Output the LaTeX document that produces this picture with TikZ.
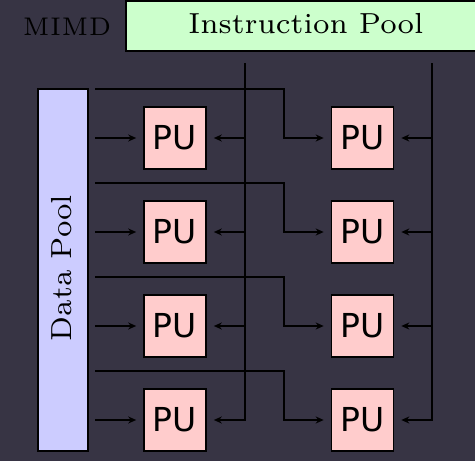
\documentclass[tikz,border=0pt]{standalone}
\usepackage{fontspec}
\newfontfamily\pufont{DejaVu Sans}
\newfontfamily\lmseven{lmroman7-regular.otf}
\newfontfamily\lmsevenspaced[LetterSpace=4]{lmroman7-regular.otf}
\usetikzlibrary{arrows.meta}
\definecolor{bgc}{RGB}{55,52,68}
\definecolor{pufill}{RGB}{255,204,204}
\definecolor{datafill}{RGB}{204,204,255}
\definecolor{instfill}{RGB}{204,255,204}
\tikzset{
  pubox/.style={draw=black, fill=pufill, line width=1.6pt, minimum width=62pt, minimum height=62pt, inner sep=0pt, font=\pufont\fontsize{33}{33}\selectfont},
  poolbox/.style={draw=black, line width=1.6pt, inner sep=0pt},
  label/.style={font=\lmseven\fontsize{29}{29}\selectfont, inner sep=0pt},
  conn/.style={draw=black, line width=1.6pt},
  arr/.style={conn, -{Stealth[length=8pt,width=7pt]}, shorten >=7pt}
}
\begin{document}
\begin{tikzpicture}[x=1pt,y=-1pt]
\fill[bgc] (0,0) rectangle (475,461);
\useasboundingbox (0,0) rectangle (475,461);
\clip (0,0) rectangle (475,461);

\node[label, font=\lmsevenspaced\fontsize{25.5}{25.5}\selectfont] (mimd) at (67,27) {MIMD};
\node[poolbox, fill=instfill, minimum width=380pt, minimum height=50pt] (inst) at (316,26) {};
\node[label] (instlabel) at (306,24) {Instruction Pool};
\node[poolbox, fill=datafill, minimum width=50pt, minimum height=362pt] (data) at (63,270) {};
\node[label, rotate=90] (datalabel) at (62,268) {Data Pool};

\foreach \r/\y in {1/138,2/232,3/326,4/420}{
  \node[pubox] (pu\r1) at (175,\y) {PU};
  \node[pubox] (pu\r2) at (362.5,\y) {PU};
}

% instruction lines
\coordinate (ia) at (245,63);
\coordinate (ib) at (432,63);
\draw[arr] (ia) |- (pu41.east);
\draw[arr] (ib) |- (pu42.east);
\foreach \r in {1,2,3}{
  \draw[arr] (pu\r1.east -| ia) -- (pu\r1.east);
  \draw[arr] (pu\r2.east -| ib) -- (pu\r2.east);
}

% data lines
\foreach \r/\y in {1/138,2/232,3/326,4/420}{
  \coordinate (dl\r) at (95,\y);
  \coordinate (ds\r) at (95,\y-49);
  \draw[arr] (dl\r) -- (pu\r1.west);
  \draw[arr] (ds\r) -- ++(189,0) |- (pu\r2.west);
}
\end{tikzpicture}
\end{document}
